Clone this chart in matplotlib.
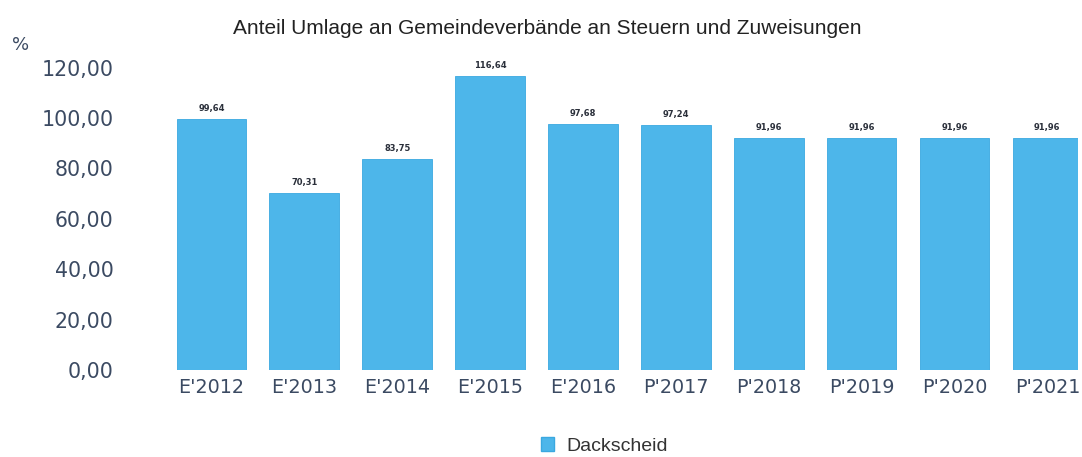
import matplotlib.pyplot as plt
from matplotlib.patches import Patch

categories = ["E'2012", "E'2013", "E'2014", "E'2015", "E'2016",
              "P'2017", "P'2018", "P'2019", "P'2020", "P'2021"]
values = [99.64, 70.31, 83.75, 116.64, 97.68, 97.24, 91.96, 91.96, 91.96, 91.96]
yticks = [0, 20, 40, 60, 80, 100, 120]

bar_color = '#4db6ea'
text_color = '#3b4a62'

W, H = 1082, 457
fig = plt.figure(figsize=(W / 100, H / 100), dpi=100)
# axes in pixel coords: left 165, right 1078, bottom y=370, top y=55
ax = fig.add_axes([165 / W, (H - 370) / H, (1078 - 165) / W, (370 - 55) / H])

x = list(range(len(categories)))
ax.bar(x, values, width=0.75, color=bar_color, edgecolor='#3aa8e0', linewidth=0.6)
for xi, v in zip(x, values):
    ax.text(xi, v + 2.5, f'{v:.2f}'.replace('.', ','), ha='center', va='bottom',
            fontsize=6, fontweight='bold', color='#2a2f3a')

ax.set_xlim(-0.5, 9.33)
ax.set_ylim(0, 125)
ax.set_yticks(yticks)
ax.set_yticklabels([f'{t:.2f}'.replace('.', ',') for t in yticks])
ax.set_xticks(x)
ax.set_xticklabels(categories)
ax.tick_params(axis='y', length=0, pad=37, labelsize=14.8, labelcolor=text_color)
ax.tick_params(axis='x', length=0, pad=6, labelsize=13.8, labelcolor=text_color)
for s in ax.spines.values():
    s.set_visible(False)

fig.text(547 / W, 1 - 28 / H, 'Anteil Umlage an Gemeindeverbände an Steuern und Zuweisungen',
         ha='center', va='center', fontsize=15, color='#222222', family='Liberation Sans')
fig.text(12 / W, 1 - 45 / H, '%', ha='left', va='center', fontsize=13, color=text_color)

fig.legend(handles=[Patch(facecolor=bar_color, edgecolor='#3aa8e0', label='Dackscheid')],
           loc='center', bbox_to_anchor=(604 / W, 1 - 446 / H), frameon=False,
           prop={'family': 'Liberation Sans', 'size': 14}, handlelength=0.7,
           handleheight=0.7, handletextpad=0.6, labelcolor='#333333')

fig.savefig('out.png', dpi=100)
